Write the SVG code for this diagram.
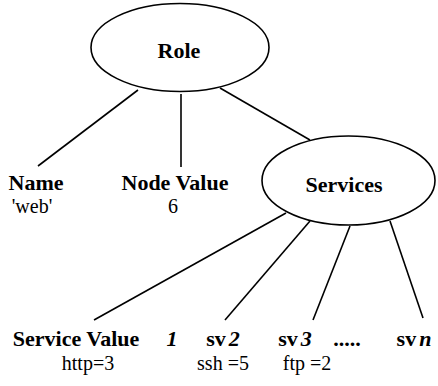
<svg xmlns="http://www.w3.org/2000/svg" width="438" height="386" viewBox="0 0 438 386">
<style>
text{font-family:'Liberation Serif',serif;fill:#000;text-anchor:middle}
.b{font-weight:bold;font-size:22px}
.r{font-size:20px}
.i{font-style:italic}
.e{fill:#fff;stroke:#000;stroke-width:1.6}
.c line{stroke:#000;stroke-width:1.6}
</style>
<rect width="438" height="386" fill="#fff"/>
<g class="c" id="connectors">
<line x1="138" y1="90" x2="38" y2="166"/>
<line x1="181" y1="94" x2="181" y2="167"/>
<line x1="220" y1="88" x2="310" y2="140"/>
<line x1="286" y1="213" x2="94" y2="320"/>
<line x1="310" y1="221" x2="225" y2="320"/>
<line x1="350" y1="226" x2="313" y2="320"/>
<line x1="390" y1="221" x2="423" y2="318"/>
</g>
<g id="role">
<ellipse class="e" cx="180" cy="47.5" rx="89" ry="44"/>
<text class="b" x="179" y="58">Role</text>
</g>
<g id="name">
<text class="b" x="36" y="190">Name</text>
<text class="r" x="32" y="213">'web'</text>
</g>
<g id="nodevalue">
<text class="b" x="175" y="190">Node Value</text>
<text class="r" x="173" y="213">6</text>
</g>
<g id="services">
<ellipse class="e" cx="348.5" cy="180.5" rx="86.5" ry="44.5"/>
<text class="b" x="344" y="192">Services</text>
</g>
<g id="sv1">
<text class="b" x="76" y="346">Service Value</text>
<text class="b i" x="172" y="346">1</text>
<text class="r" x="88" y="370">http=3</text>
</g>
<g id="sv2">
<text class="b" x="223" y="346">sv<tspan class="i" dx="3">2</tspan></text>
<text class="r" x="223" y="370">ssh =5</text>
</g>
<g id="sv3">
<text class="b" x="295" y="346">sv<tspan class="i" dx="3">3</tspan></text>
<text class="r" x="307" y="370">ftp =2</text>
</g>
<g id="dots">
<text class="b" x="347" y="346">.....</text>
</g>
<g id="svn">
<text class="b" x="414" y="346">sv<tspan class="i" dx="3">n</tspan></text>
</g>
</svg>
